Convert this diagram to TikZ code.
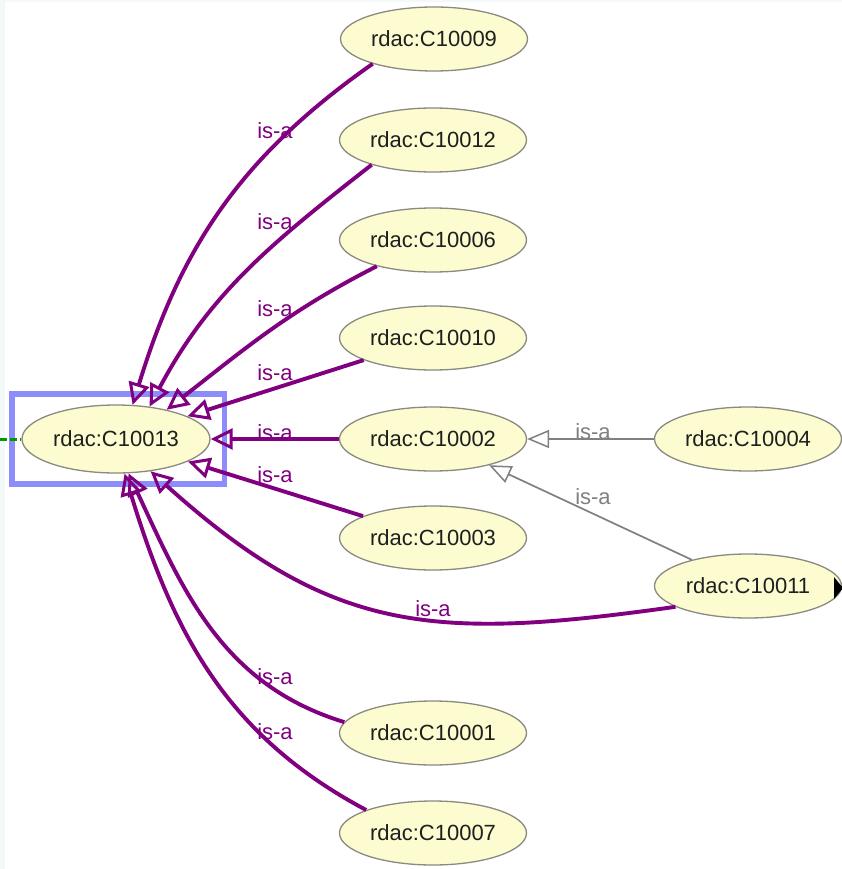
\documentclass[tikz,border=0pt]{standalone}
\usepackage{fontspec}
\setmainfont{Liberation Sans}
\usetikzlibrary{shapes,arrows.meta}
\definecolor{isapurple}{RGB}{128,0,128}
\definecolor{clsfill}{RGB}{252,252,208}
\definecolor{clsline}{RGB}{138,138,128}
\definecolor{selblue}{RGB}{140,140,250}
\definecolor{edgegray}{RGB}{128,128,128}
\definecolor{rimcol}{RGB}{243,249,249}

\begin{document}
\begin{tikzpicture}[x=1pt, y=-1pt,
  cls/.style={ellipse, draw=clsline, line width=1.3pt, fill=clsfill, text=black!88,
    minimum width=187pt, minimum height=64pt, inner sep=0pt, font=\fontsize{22}{26}\selectfont},
  isa/.style={draw=isapurple, line width=3.9pt,
    -{Triangle[open, length=22pt, width=21pt, line width=3pt]}},
  subisa/.style={draw=edgegray, line width=1.7pt,
    -{Triangle[open, length=22pt, width=18pt, line width=1.5pt]}},
  lbl/.style={text=isapurple, inner sep=0pt, font=\fontsize{22}{26}\selectfont},
  sublbl/.style={lbl, text=edgegray}]

  \useasboundingbox (0,0) rectangle (842,869);
  \fill[rimcol] (0,0) rectangle (842,869);
  \fill[white] (5,2) rectangle (842,869);

  %% classes
  \node[cls, minimum width=188pt, minimum height=68pt] (c13) at (116,439) {rdac:C10013};
  \node[cls] (c09) at (434,39)  {rdac:C10009};
  \node[cls] (c12) at (433,140) {rdac:C10012};
  \node[cls] (c06) at (433,240) {rdac:C10006};
  \node[cls] (c10) at (433,338) {rdac:C10010};
  \node[cls] (c02) at (433,439) {rdac:C10002};
  \node[cls] (c03) at (433,538) {rdac:C10003};
  \node[cls] (c01) at (433,733) {rdac:C10001};
  \node[cls] (c07) at (433,833) {rdac:C10007};
  \node[cls] (c04) at (748,439) {rdac:C10004};
  \node[cls] (c11) at (748,586) {rdac:C10011};

  %% selection frame, stub and expand marker
  \draw[selblue, line width=5.5pt] (12,394) rectangle (224.5,484);
  \coordinate (stub) at (0,439);
  \draw[green!60!black, line width=3pt, dash pattern=on 7pt off 3pt] (stub) -- (c13.west);
  \fill[black] (834,577) -- (843,588) -- (834,599) -- cycle;

  %% is-a edges into rdac:C10013
  \draw[isa] (c09.202) to[out=215, in=73] (c13.64);
  \draw[isa] (c12.202) to[out=218, in=62] (c13.44);
  \draw[isa] (c06.205) to[out=207, in=38] (c13.30);
  \draw[isa] (c10) -- (c13);
  \draw[isa] (c02) -- (c13);
  \draw[isa] (c03) -- (c13);
  \draw[isa] (c11.196) to[out=188, in=-42, looseness=1.15] (c13.-43);
  \draw[isa] (c01.173) to[out=163, in=-65] (c13.-70);
  \draw[isa] (c07.161) to[out=152, in=-73] (c13.-76);

  %% is-a edges into rdac:C10002
  \draw[subisa] (c04) -- (c02);
  \draw[subisa] (c11) -- (c02);

  %% labels
  \node[lbl] (l09) at (275,131) {is-a};
  \node[lbl] (l12) at (275,222) {is-a};
  \node[lbl] (l06) at (275,309) {is-a};
  \node[lbl] (l10) at (275,373) {is-a};
  \node[lbl] (l02) at (275,433) {is-a};
  \node[lbl] (l03) at (275,475) {is-a};
  \node[lbl] (l11) at (433,609) {is-a};
  \node[lbl] (l01) at (275,677) {is-a};
  \node[lbl] (l07) at (275,732) {is-a};
  \node[sublbl] (l04) at (593,432) {is-a};
  \node[sublbl] (l11b) at (593,497) {is-a};
\end{tikzpicture}
\end{document}
